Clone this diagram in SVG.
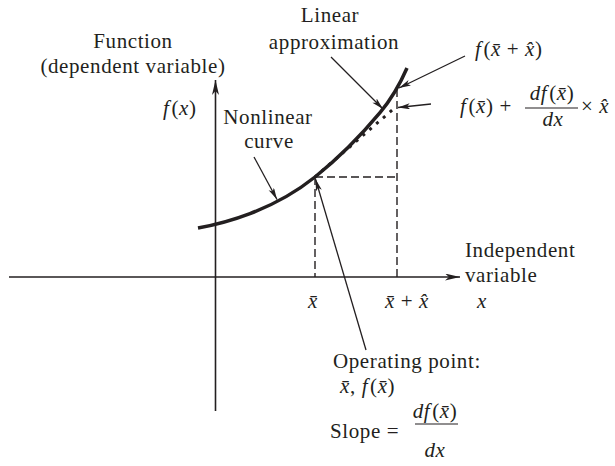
<svg xmlns="http://www.w3.org/2000/svg" width="615" height="466" viewBox="0 0 615 466">
<style>
text { font-family: "Liberation Serif", "Times New Roman", serif; font-size: 21px; fill: #231f20; letter-spacing: 0.6px; }
.i { font-style: italic; }
.axis { stroke: #231f20; stroke-width: 1.6; fill: none; }
.lead { stroke: #231f20; stroke-width: 1.3; fill: none; }
.dash { stroke: #231f20; stroke-width: 1.4; stroke-dasharray: 8 4; fill: none; }
.curve { stroke: #231f20; stroke-width: 3.5; fill: none; }
.dot { stroke: #231f20; stroke-width: 3; stroke-dasharray: 3 6; fill: none; }
.frac { stroke: #231f20; stroke-width: 1.2; }
</style>
<defs>
<marker id="ax" markerUnits="userSpaceOnUse" markerWidth="16" markerHeight="8" refX="15" refY="3.5" orient="auto"><path d="M0,0 L15,3.5 L0,7 L4,3.5 z" fill="#231f20"/></marker>
<marker id="ar" markerUnits="userSpaceOnUse" markerWidth="13" markerHeight="7" refX="12" refY="3" orient="auto"><path d="M0,0 L12,3 L0,6 L3,3 z" fill="#231f20"/></marker>
</defs>
<rect width="615" height="466" fill="#ffffff"/>

<g id="axes">
<line class="axis" x1="9" y1="277" x2="460" y2="277" marker-end="url(#ax)"/>
<line class="axis" x1="215.5" y1="411" x2="215.5" y2="80" marker-end="url(#ax)"/>
</g>

<g id="nonlinear-curve">
<path class="curve" d="M198,228 C215.3,224.9 232.7,220.2 250,213.6 C271.7,205.4 293.3,194.3 315,177 C336.7,159.7 358.3,138.7 380,112.7 C389,101.9 398,88.7 407,68"/>
</g>

<g id="linear-approximation">
<path class="dot" d="M315,177 L395,107.6"/>
</g>

<g id="guides">
<path class="dash" d="M315,177 V277"/>
<path class="dash" d="M315,177 H397"/>
<path class="dash" d="M397,89 V277"/>
</g>

<g id="connectors">
<line class="lead" x1="254" y1="157" x2="277" y2="199.5" marker-end="url(#ar)"/>
<line class="lead" x1="331" y1="57" x2="383" y2="109" marker-end="url(#ar)"/>
<line class="lead" x1="465" y1="56" x2="399" y2="88" marker-end="url(#ar)"/>
<line class="lead" x1="431" y1="104" x2="398" y2="107.5" marker-end="url(#ar)"/>
<line class="lead" x1="366" y1="350" x2="315.5" y2="179" marker-end="url(#ar)"/>
</g>

<g id="label-function">
<text x="133" y="48" text-anchor="middle">Function</text>
<text x="133" y="73" text-anchor="middle">(dependent variable)</text>
</g>

<g id="label-fx">
<text x="163" y="115"><tspan class="i">f</tspan><tspan dx="2">(</tspan><tspan class="i">x</tspan>)</text>
</g>

<g id="label-nonlinear">
<text x="268" y="124" text-anchor="middle">Nonlinear</text>
<text x="269" y="148" text-anchor="middle">curve</text>
</g>

<g id="label-linear">
<text x="330" y="22" text-anchor="middle">Linear</text>
<text x="334" y="49" text-anchor="middle">approximation</text>
</g>

<g id="label-f-xbar-plus-xhat">
<text x="475" y="56"><tspan class="i">f</tspan><tspan dx="2">(</tspan><tspan class="i">x̄</tspan> + <tspan class="i">x̂</tspan>)</text>
</g>

<g id="label-taylor">
<text x="460" y="113"><tspan class="i">f</tspan><tspan dx="2">(</tspan><tspan class="i">x̄</tspan>) + </text>
<text x="552" y="100" text-anchor="middle"><tspan class="i">df</tspan><tspan dx="2">(</tspan><tspan class="i">x̄</tspan>)</text>
<line class="frac" x1="525" y1="108" x2="578" y2="108"/>
<text x="553" y="126" text-anchor="middle" class="i">dx</text>
<text x="581" y="113">× <tspan class="i">x̂</tspan></text>
</g>

<g id="label-independent">
<text x="465" y="257">Independent</text>
<text x="465" y="282">variable</text>
<text x="482" y="308" text-anchor="middle" class="i">x</text>
</g>

<g id="label-xbar">
<text x="313" y="308" text-anchor="middle" class="i">x̄</text>
</g>

<g id="label-xbar-plus-xhat">
<text x="385" y="308"><tspan class="i">x̄</tspan> + <tspan class="i">x̂</tspan></text>
</g>

<g id="label-operating-point">
<text x="333" y="368">Operating point:</text>
<text x="340" y="393"><tspan class="i">x̄</tspan>, <tspan class="i">f</tspan><tspan dx="2">(</tspan><tspan class="i">x̄</tspan>)</text>
</g>

<g id="label-slope">
<text x="330" y="438">Slope =</text>
<text x="435" y="418" text-anchor="middle"><tspan class="i">df</tspan><tspan dx="2">(</tspan><tspan class="i">x̄</tspan>)</text>
<line class="frac" x1="415" y1="424" x2="458" y2="424"/>
<text x="435" y="457" text-anchor="middle" class="i">dx</text>
</g>
</svg>
